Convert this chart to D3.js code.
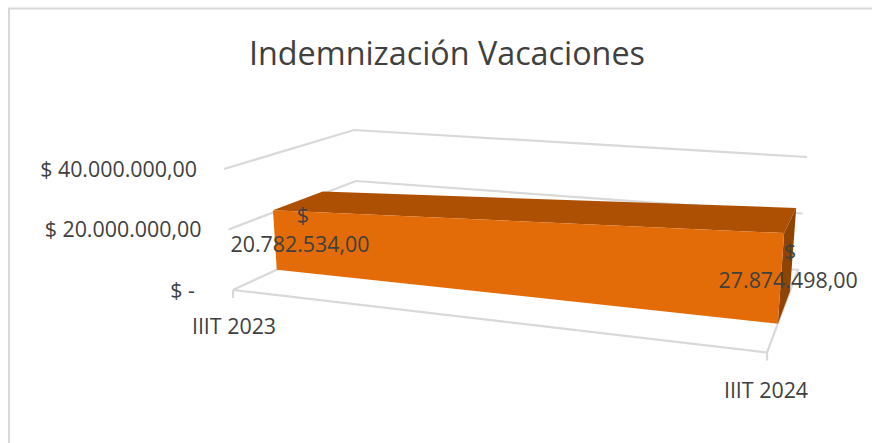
<!DOCTYPE html>
<html><head><meta charset="utf-8">
<script src="https://cdnjs.cloudflare.com/ajax/libs/d3/7.8.5/d3.min.js"></script>
<style>html,body{margin:0;padding:0;background:#fff}svg{display:block}text{font-family:"Open Sans",sans-serif;fill:#404040}</style>
</head><body><svg id="c" width="872" height="443"></svg>
<script>
const title = "Indemnización Vacaciones";
const categories = ["IIIT 2023", "IIIT 2024"];
const values = [20782534, 27874498];
const valueLabels = ["20.782.534,00", "27.874.498,00"];
const yTicks = [0, 20000000, 40000000];
const yTickLabels = ["$ -", "$ 20.000.000,00", "$ 40.000.000,00"];

const svg = d3.select("#c");
const GRID = "#d9d9d9";

// scales over the oblique 3D box
const tScale = d3.scalePoint().domain(categories).range([0, 1]);
const vScale = d3.scaleLinear().domain([0, 40000000]).range([0, 1]);
const floor = {fl:[233,290], fr:[767,352.5], bl:[358,232], br:[798,270]};
const rise  = {fl:[-9,-121], fr:[9,-139], bl:[-4,-102], br:[9,-113]};
const lerp = (a,b,k)=>a+(b-a)*k;
const bil = (o,t,d,i)=>lerp(lerp(o.fl[i],o.fr[i],t), lerp(o.bl[i],o.br[i],t), d);
function project(t, value, d){
  const h = vScale(value);
  return [bil(floor,t,d,0)+h*bil(rise,t,d,0), bil(floor,t,d,1)+h*bil(rise,t,d,1)];
}
const line = d3.line();
const gl = svg.append("g").attr("fill","none").attr("stroke",GRID).attr("stroke-width",2.2);

// chart border
svg.append("path").attr("d","M9,443V8.5H872").attr("fill","none").attr("stroke","#d9d9d9").attr("stroke-width",2);

// walls
yTicks.filter(v=>v>0).forEach(v=>{
  gl.append("path").attr("d",line([project(0,v,0),project(0,v,1),project(1,v,1)]));
});
// floor
gl.append("path").attr("d",line([project(0,0,0),project(0,0,1),project(1,0,1),project(1,0,0),project(0,0,0)]));
// category ticks
categories.forEach(c=>{
  const p=project(tScale(c),0,0);
  gl.append("path").attr("d",line([p,[p[0],p[1]+8]]));
});

// 3D area
const d0=0.35, d1=0.74;
const [c0,c1]=categories, [v0,v1]=values;
const quad=(pts,fill)=>svg.append("path").attr("d",line(pts)+"Z").attr("fill",fill);
quad([project(tScale(c1),v1,d0),project(tScale(c1),v1,d1),project(tScale(c1),0,d1),project(tScale(c1),0,d0)],"#8f4403");
quad([project(tScale(c0),v0,d0),project(tScale(c0),v0,d1),project(tScale(c1),v1,d1),project(tScale(c1),v1,d0)],"#ad5003");
quad([project(tScale(c0),v0,d0),project(tScale(c1),v1,d0),project(tScale(c1),0,d0),project(tScale(c0),0,d0)],"#e36c09");

// title
svg.append("text").attr("x",447).attr("y",65).attr("text-anchor","middle").attr("font-size",32.3).text(title);

// y axis labels
yTicks.forEach((v,i)=>{
  const p=project(0,v,0);
  svg.append("text").attr("x",p[0]-(v===0?38:27)).attr("y",p[1]).attr("dy","0.36em")
    .attr("text-anchor","end").attr("font-size",21.4).text(yTickLabels[i]);
});
// x axis labels
categories.forEach((c,i)=>{
  const p=project(tScale(c),0,0);
  svg.append("text").attr("x",p[0]+(i===0?1:-1)).attr("y",p[1]+(i===0?36:37.5)).attr("dy","0.36em")
    .attr("text-anchor","middle").attr("font-size",21.4).text(c);
});
// data labels
values.forEach((v,i)=>{
  const p=project(tScale(categories[i]),v,d0);
  const dx=i===0?27:4, dy=i===0?34:47;
  svg.append("text").attr("x",p[0]+dx+(i===0?3:2)).attr("y",p[1]+dy-29).attr("dy","0.36em").attr("text-anchor","middle").attr("font-size",21.4).text("$");
  svg.append("text").attr("x",p[0]+dx).attr("y",p[1]+dy).attr("dy","0.36em").attr("text-anchor","middle").attr("font-size",21.4).text(valueLabels[i]);
});
</script></body></html>
